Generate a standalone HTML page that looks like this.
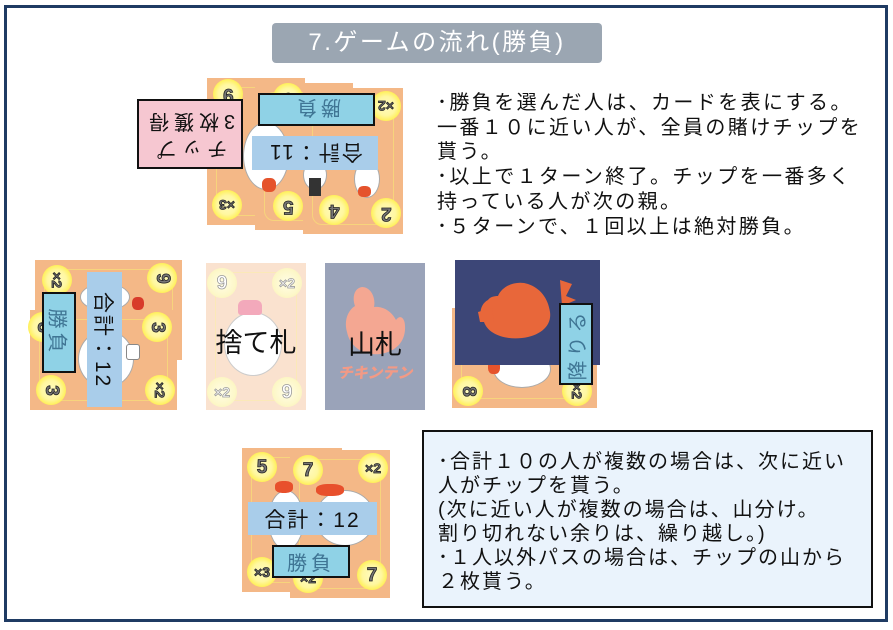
<!DOCTYPE html>
<html><head><meta charset="utf-8">
<style>
*{margin:0;padding:0;box-sizing:border-box}
body{width:893px;height:630px;background:#fff;position:relative;overflow:hidden;font-family:"Liberation Sans","Noto Sans CJK JP",sans-serif}
.a{position:absolute}
.frame{left:4px;top:5px;width:884px;height:617px;border:3px solid #1f3b63}
.title{left:272px;top:23px;width:330px;height:40px;background:#9ba6b2;border-radius:4px;color:#fff;font-size:24px;letter-spacing:2.5px;text-align:center;line-height:40px}
.card{position:absolute;background:#f4b887}
.card::after{content:"";position:absolute;left:9px;top:9px;right:9px;bottom:9px;border:1px solid #f7d47c;border-radius:10px}
.c{position:absolute;width:30px;height:30px;border-radius:50%;background:radial-gradient(circle,#fffbc0 0,#fff7a0 45%,#fff05a 70%,#f8e44a 100%);display:flex;align-items:center;justify-content:center;font-size:19px;font-weight:bold;color:#777;-webkit-text-stroke:0.8px #222;line-height:1}
.c.s{font-size:14px}
.f{background:radial-gradient(circle,#fffde6 0,#fdf8cc 55%,#fbf2b2 100%);color:#fff;-webkit-text-stroke:0.8px #9a9a9a}
.r180{display:inline-block;transform:rotate(180deg)}
.r90{display:inline-block;transform:rotate(90deg)}
.lbl{position:absolute;display:flex;align-items:center;justify-content:center;white-space:nowrap}
.lbl span{flex-shrink:0;display:inline-block;white-space:nowrap}
.sum{background:#a9cdea;color:#111;font-size:21px;letter-spacing:2px}
.win{background:#8fd2e6;border:2.5px solid #111;color:#3f7594;font-size:20px;letter-spacing:4px}
.txt{font-size:20px;letter-spacing:2.4px;color:#111;white-space:nowrap}
.wh{position:absolute;background:#fff;border:1px solid #aaa;border-radius:50%}
.red{position:absolute;background:#e5532c;border-radius:40%}
</style></head><body>
<div class="a frame"></div>
<div class="a title">7.ゲームの流れ(勝負)</div>

<!-- top cluster -->
<div class="card" style="left:207px;top:78px;width:98px;height:147px"></div>
<div class="card" style="left:255px;top:83px;width:98px;height:147px"></div>
<div class="card" style="left:303px;top:88px;width:100px;height:146px"></div>
<div class="wh" style="left:243px;top:122px;width:46px;height:68px"></div>
<div class="red" style="left:262px;top:178px;width:14px;height:14px"></div>
<div class="wh" style="left:303px;top:160px;width:24px;height:30px"></div>
<div class="a" style="left:309px;top:178px;width:12px;height:18px;background:#333"></div>
<div class="wh" style="left:354px;top:160px;width:26px;height:38px"></div>
<div class="red" style="left:358px;top:186px;width:13px;height:11px"></div>
<div class="c" style="left:213px;top:79px"><span class="r180">9</span></div>
<div class="c" style="left:273px;top:83px"><span class="r180">6</span></div>
<div class="c s" style="left:371px;top:91px"><span class="r180">×2</span></div>
<div class="c s" style="left:212px;top:190px"><span class="r180">×3</span></div>
<div class="c" style="left:273px;top:191px"><span class="r180">5</span></div>
<div class="c" style="left:319px;top:195px"><span class="r180">4</span></div>
<div class="c" style="left:371px;top:198px"><span class="r180">2</span></div>
<div class="lbl" style="left:137px;top:99px;width:106px;height:70px;background:#f6c7d1;border:2.5px solid #111;font-size:20px;letter-spacing:5px;color:#111"><span class="r180" style="text-align:center;line-height:27px">チップ<br>3枚獲得</span></div>
<div class="lbl win" style="left:258px;top:93px;width:117px;height:33px"><span class="r180">勝負</span></div>
<div class="lbl sum" style="left:252px;top:136px;width:126px;height:34px"><span class="r180">合計：11</span></div>

<!-- left cluster -->
<div class="card" style="left:35px;top:260px;width:147px;height:100px"></div>
<div class="card" style="left:30px;top:310px;width:147px;height:100px"></div>
<div class="wh" style="left:80px;top:283px;width:50px;height:28px"></div>
<div class="red" style="left:132px;top:297px;width:12px;height:13px;background:#d83b2a"></div>
<div class="wh" style="left:78px;top:330px;width:56px;height:58px"></div>
<div class="a" style="left:126px;top:344px;width:14px;height:16px;background:#fff;border:1px solid #888;border-radius:3px"></div>
<div class="c s" style="left:42px;top:265px"><span class="r90">×2</span></div>
<div class="c" style="left:147px;top:263px"><span class="r90">9</span></div>
<div class="c" style="left:142px;top:312px"><span class="r90">3</span></div>
<div class="c" style="left:28px;top:312px"><span class="r90">3</span></div>
<div class="c" style="left:36px;top:375px"><span class="r90">3</span></div>
<div class="c s" style="left:145px;top:375px"><span class="r90">×2</span></div>
<div class="lbl sum" style="left:87px;top:272px;width:35px;height:135px"><span class="r90">合計：12</span></div>
<div class="lbl win" style="left:42px;top:292px;width:34px;height:81px"><span class="r90">勝負</span></div>

<!-- discard -->
<div class="card" style="left:206px;top:263px;width:100px;height:147px;background:#fae2cf"></div>
<div class="a" style="left:215px;top:272px;width:82px;height:129px;border:1px solid #fbe9b8;border-radius:10px"></div>
<div class="wh" style="left:224px;top:312px;width:58px;height:64px;border-color:#ccc"></div>
<div class="a" style="left:238px;top:300px;width:24px;height:15px;background:#f3a9bb;border-radius:6px 6px 3px 3px"></div>
<div class="c f" style="left:207px;top:268px">9</div>
<div class="c f s" style="left:272px;top:268px">×2</div>
<div class="c f s" style="left:207px;top:377px">×2</div>
<div class="c f" style="left:272px;top:377px">9</div>
<div class="a" style="left:206px;top:327px;width:100px;text-align:center;font-size:27px;color:#111;line-height:32px">捨て札</div>

<!-- yamafuda -->
<div class="a" style="left:325px;top:263px;width:100px;height:147px;background:#9aa3b9"></div>
<svg class="a" style="left:325px;top:263px" width="100" height="147" viewBox="325 263 100 147">
<path d="M362 287 C354 288 352 298 355 306 C347 311 344 322 347 332 C350 347 364 356 380 354 C396 352 406 341 405 326 C405 318 400 314 396 320 C392 312 384 306 374 307 C376 298 371 287 362 287 Z" fill="#f4a792"/>
</svg>
<div class="a" style="left:325px;top:329px;width:100px;text-align:center;font-size:27px;color:#111;line-height:32px">山札</div>
<div class="a" style="left:325px;top:362px;width:100px;text-align:center;font-size:15px;font-weight:900;font-style:italic;color:#f29a86;letter-spacing:0px">チキンテン</div>

<!-- right: navy over orange -->
<div class="card" style="left:452px;top:308px;width:145px;height:100px"></div>
<div class="wh" style="left:493px;top:350px;width:58px;height:38px"></div>
<div class="red" style="left:488px;top:360px;width:12px;height:14px"></div>
<div class="c" style="left:453px;top:376px"><span class="r90">8</span></div>
<div class="c s" style="left:562px;top:376px"><span class="r90">×2</span></div>
<div class="a" style="left:455px;top:260px;width:145px;height:105px;background:#3c4677"></div>
<svg class="a" style="left:455px;top:260px" width="145" height="105" viewBox="455 260 145 105">
<path d="M488 300 C480 304 478 316 484 322 C488 334 505 340 522 338 C540 336 552 326 550 312 C548 298 540 288 528 284 C516 280 502 286 498 296 C494 296 490 297 488 300 Z" fill="#e8673a"/>
<path d="M478 312 L492 308 L494 322 L480 322 Z" fill="#e8673a"/>
<path d="M560 280 L572 284 L566 296 L576 300 L562 306 Z" fill="#e8673a"/>
</svg>
<div class="lbl win" style="left:559px;top:303px;width:34px;height:82px"><span style="transform:rotate(-90deg)">降りる</span></div>

<!-- bottom cluster -->
<div class="card" style="left:242px;top:448px;width:100px;height:144px"></div>
<div class="card" style="left:290px;top:450px;width:100px;height:148px"></div>
<div class="wh" style="left:268px;top:490px;width:36px;height:60px"></div>
<div class="red" style="left:275px;top:481px;width:18px;height:12px;background:#e8502c"></div>
<div class="wh" style="left:315px;top:490px;width:60px;height:56px"></div>
<div class="red" style="left:316px;top:484px;width:28px;height:12px;background:#e8502c"></div>
<div class="c" style="left:247px;top:452px">5</div>
<div class="c" style="left:293px;top:455px">7</div>
<div class="c s" style="left:358px;top:453px">×2</div>
<div class="c s" style="left:247px;top:557px">×3</div>
<div class="c s" style="left:293px;top:563px">×2</div>
<div class="c" style="left:357px;top:560px">7</div>
<div class="lbl sum" style="left:248px;top:502px;width:129px;height:33px"><span>合計：12</span></div>
<div class="lbl win" style="left:272px;top:545px;width:78px;height:33px"><span>勝負</span></div>

<!-- top-right text -->
<div class="a txt" style="left:437px;top:91px;line-height:24.7px">･勝負を選んだ人は、カードを表にする。<br>一番１０に近い人が、全員の賭けチップを<br>貰う。<br>･以上で１ターン終了。チップを一番多く<br>持っている人が次の親。<br>･５ターンで、１回以上は絶対勝負。</div>

<!-- bottom-right box -->
<div class="a" style="left:422px;top:430px;width:451px;height:178px;background:#eaf3fc;border:2px solid #111"></div>
<div class="a txt" style="left:438px;top:450px;line-height:24px;letter-spacing:2px">･合計１０の人が複数の場合は、次に近い<br>人がチップを貰う。<br>(次に近い人が複数の場合は、山分け。<br>割り切れない余りは、繰り越し。)<br>･１人以外パスの場合は、チップの山から<br>２枚貰う。</div>
</body></html>
